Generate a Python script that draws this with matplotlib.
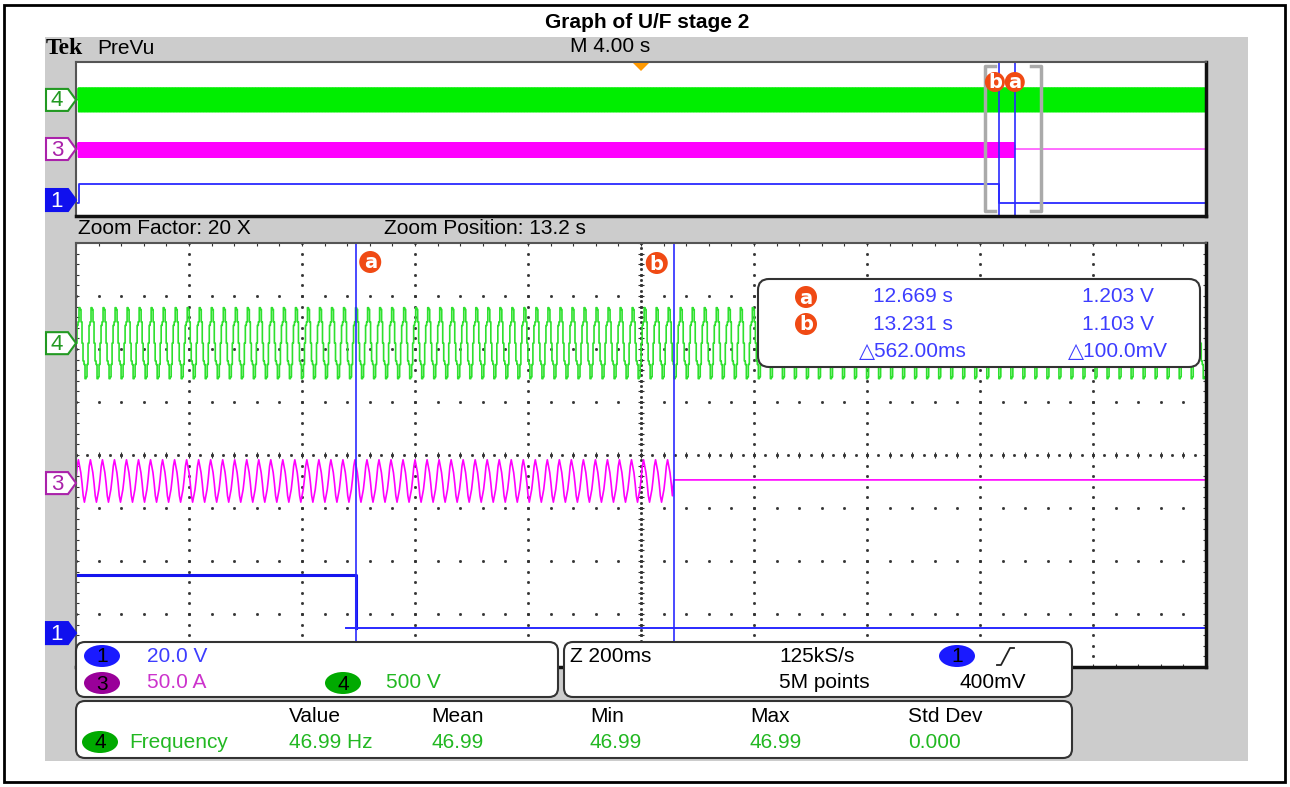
import numpy as np
import matplotlib
matplotlib.use("Agg")
import matplotlib.pyplot as plt
from matplotlib.patches import Rectangle, FancyBboxPatch, Ellipse, Polygon, Circle

plt.rcParams['font.family'] = ['Liberation Sans', 'DejaVu Sans']

# ---- values ----
title = "Graph of U/F stage 2"
freq_hz = 46.99
preview_div_s = 4.0          # M 4.00 s
zoom_div_s = 0.2             # Z 200ms
zoom_factor = 20
zoom_pos_label = 13.2
zoom_center = 13.173         # actual centre of the zoom window (s)
cursor_names = ["a", "b"]
cursor_t = [12.669, 13.231]
cursor_v = [1.203, 1.103]
cursor_delta = ["\u25b3562.00ms", "\u25b3100.0mV"]

# one period of each trace, normalised (-1..1)
ch4_cycle = [0.0, 0.5, 0.6, 1.0, 0.95, 0.6, 0.0, -0.5, -0.6, -1.0, -0.95, -0.6]
ch3_cycle = [0.1, 0.7, 1.0, 0.7, 0.4, -0.1, -0.7, -1.0, -0.7, -0.4]

# trace positions in divisions (zoom window)
ch4_off, ch4_amp = 2.11, 0.67
ch3_off, ch3_amp, ch3_after = -0.49, 0.40, -0.47
ch1_high, ch1_low = -2.26, -3.26
ch1_low_start = 12.65

# trace positions in divisions (preview)
pv_start = -19.93
pv_ch4_off, pv_ch4_amp = 2.03, 0.62
pv_ch3_off, pv_ch3_amp, pv_ch3_after = -0.57, 0.38, -0.52
pv_ch1_high, pv_ch1_low = -2.34, -3.32
pv_ch1_rise = -19.9

# channel ground markers (div): main / preview
marker_main = {"4": 2.11, "3": -0.53, "1": -3.36}
marker_prev = {"4": 2.03, "3": -0.52, "1": -3.17}

# readouts
ch_scales = ["20.0 V", "50.0 A", "500 V"]
horiz_info = ["Z 200ms", "125kS/s", "5M points", "400mV"]
meas_headers = ["Value", "Mean", "Min", "Max", "Std Dev"]
meas_values = ["46.99 Hz", "46.99", "46.99", "46.99", "0.000"]
meas_name = "Frequency"

C1, C3, C4 = '#2a2aff', '#ff00ff', '#2ee02e'
ORANGE = '#f04a14'
TXT1, TXT3, TXT4 = '#3d3dff', '#cc33cc', '#22b822'

W, H = 1290, 787
fig = plt.figure(figsize=(W / 100, H / 100), dpi=100)


def frac(l, t, r, b):
    return [l / W, 1 - b / H, (r - l) / W, (b - t) / H]


def tiled(cycle, t0, t1, amp, off):
    n_per = len(cycle)
    dt = 1.0 / (freq_hz * n_per)
    n = int((t1 - t0) / dt)
    t = t0 + np.arange(n) * dt
    return t, off + amp * np.resize(cycle, n)


ax_bg = fig.add_axes([0, 0, 1, 1], zorder=0)
ax_bg.set_xlim(0, W)
ax_bg.set_ylim(H, 0)
ax_bg.axis('off')
ax_bg.add_patch(Rectangle((45, 37), 1203, 724, fc='#cccccc', ec='none'))
ax_bg.add_patch(Rectangle((4, 5), 1281, 777, fc='none', ec='black', lw=2))
ax_bg.text(647, 22, title, ha='center', va='center', fontsize=15, fontweight='bold')

ax_pv = fig.add_axes(frac(76, 62, 1206, 216), zorder=1)
ax_mn = fig.add_axes(frac(76, 243, 1206, 667), zorder=1)
for ax in (ax_pv, ax_mn):
    ax.set_xticks([])
    ax.set_yticks([])
    ax.set_ylim(-4, 4)
    for s in ('left', 'top'):
        ax.spines[s].set_color('#555555')
        ax.spines[s].set_linewidth(1.5)
    for s in ('right', 'bottom'):
        ax.spines[s].set_color('#111111')
        ax.spines[s].set_linewidth(2.5)

# ---- preview ----
ax_pv.set_xlim(-5 * preview_div_s, 5 * preview_div_s)
t, y = tiled(ch4_cycle, pv_start, 20, pv_ch4_amp, pv_ch4_off)
ax_pv.plot(t, y, color='#00ee00', lw=0.8, drawstyle='steps-post')
t, y = tiled(ch3_cycle, pv_start, cursor_t[1], pv_ch3_amp, pv_ch3_off)
ax_pv.plot(np.r_[t, cursor_t[1], 20], np.r_[y, pv_ch3_after, pv_ch3_after], color=C3, lw=0.8)
ax_pv.plot([-20, pv_ch1_rise, pv_ch1_rise, cursor_t[0], cursor_t[0], 20],
           [pv_ch1_low, pv_ch1_low, pv_ch1_high, pv_ch1_high, pv_ch1_low, pv_ch1_low],
           color=C1, lw=1.3)
for ct in cursor_t:
    ax_pv.axvline(ct, color=C1, lw=1.2)
# zoom window brackets
zl, zr = zoom_center - 5 * zoom_div_s, zoom_center + 5 * zoom_div_s
top, bot, ser = 3.8, -3.75, 0.35
ax_pv.plot([zl + ser, zl, zl, zl + ser], [top, top, bot, bot], color='#aaaaaa', lw=2.5)
ax_pv.plot([zr - ser, zr, zr, zr - ser], [top, top, bot, bot], color='#aaaaaa', lw=2.5)

# ---- zoom window ----
x0 = zoom_center - 5 * zoom_div_s
x1 = zoom_center + 5 * zoom_div_s
ax_mn.set_xlim(x0, x1)

# graticule
dot = dict(ls='none', marker='s', ms=1.0, color='#333333')
yfine = np.arange(-4, 4.001, 0.2)
xfine = x0 + zoom_div_s * np.arange(0, 10.001, 0.2)
for i in range(1, 10):
    ax_mn.plot(np.full_like(yfine, x0 + i * zoom_div_s), yfine, **dot)
for j in range(-3, 4):
    ax_mn.plot(xfine, np.full_like(xfine, j), **dot)
ydense = np.arange(-4, 4.001, 0.1)
xdense = x0 + zoom_div_s * np.arange(0, 10.001, 0.1)
ax_mn.plot(np.full_like(ydense, zoom_center), ydense, **dot)
ax_mn.plot(xdense, np.zeros_like(xdense), **dot)
ax_mn.plot(np.full_like(yfine, zoom_center), yfine, ls='none', marker='_', ms=4, mew=0.8, color='#333333')
ax_mn.plot(xfine, np.zeros_like(xfine), ls='none', marker='|', ms=4, mew=0.8, color='#333333')
for yy in (-4, 4):
    ax_mn.plot(xfine, np.full_like(xfine, yy), ls='none', marker='|', ms=5, mew=0.8, color='#333333')
for xx in (x0, x1):
    ax_mn.plot(np.full_like(yfine, xx), yfine, ls='none', marker='_', ms=5, mew=0.8, color='#333333')

t, y = tiled(ch4_cycle, x0, x1, ch4_amp, ch4_off)
ax_mn.plot(t, y, color=C4, lw=1.2, drawstyle='steps-post')
t, y = tiled(ch3_cycle, x0, cursor_t[1], ch3_amp, ch3_off)
ax_mn.plot(np.r_[t, cursor_t[1], x1], np.r_[y, ch3_after, ch3_after], color=C3, lw=1.2)
ax_mn.plot([x0, cursor_t[0], cursor_t[0]], [ch1_high, ch1_high, ch1_low], color='#1515ee', lw=2.2)
ax_mn.plot([ch1_low_start, x1], [ch1_low, ch1_low], color=C1, lw=1.4)
for ct in cursor_t:
    ax_mn.axvline(ct, color=C1, lw=1.2)

# ---- foreground (labels, readouts) ----
ax_fg = fig.add_axes([0, 0, 1, 1], zorder=2)
ax_fg.set_xlim(0, W)
ax_fg.set_ylim(H, 0)
ax_fg.axis('off')


def mn_px(t):
    return 76 + (t - x0) / (x1 - x0) * 1130


def mn_py(v):
    return 455 - v * 53


def pv_px(t):
    return 641 + t / (10 * preview_div_s) * 1130


def pv_py(v):
    return 139 - v * 19.25


def badge(x, y, letter, r=11):
    ax_fg.add_patch(Circle((x, y), r, fc=ORANGE, ec='none'))
    ax_fg.text(x, y + 1, letter, ha='center', va='center', color='white',
               fontsize=14, fontweight='bold', family='DejaVu Sans')


def chan_marker(y, num, color, filled):
    pts = [(46, y - 11), (68, y - 11), (76, y), (68, y + 11), (46, y + 11)]
    ax_fg.add_patch(Polygon(pts, closed=True, fc=color if filled else 'white',
                            ec=color, lw=1.5))
    ax_fg.text(57, y + 1, num, ha='center', va='center', fontsize=16,
               color='white' if filled else color)


cols = {"4": ('#229922', False), "3": ('#aa22aa', False), "1": ('#1010ee', True)}
for num, v in marker_main.items():
    chan_marker(mn_py(v), num, *cols[num])
for num, v in marker_prev.items():
    chan_marker(pv_py(v), num, *cols[num])

# trigger position marker
tx = pv_px(0)
ax_fg.add_patch(Polygon([(tx - 8, 63), (tx + 8, 63), (tx, 71)], fc='#ff9900', ec='none'))

# cursor badges
badge(mn_px(cursor_t[0]) + 14, 262, cursor_names[0])
badge(mn_px(cursor_t[1]) - 17, 263, cursor_names[1])
badge(pv_px(cursor_t[1]), 82, cursor_names[0], r=10)
badge(pv_px(cursor_t[0]) - 4, 82, cursor_names[1], r=10)

fs = 15
ax_fg.text(46, 48, "Tek", ha='left', va='center', fontsize=17, fontweight='bold',
           family='Liberation Serif')
ax_fg.text(97, 48, "PreVu", ha='left', va='center', fontsize=fs)
ax_fg.text(570, 47, f"M {preview_div_s:.2f} s", ha='left', va='center', fontsize=fs)
ax_fg.text(78, 229, f"Zoom Factor: {zoom_factor} X", ha='left', va='center', fontsize=fs)
ax_fg.text(384, 229, f"Zoom Position: {zoom_pos_label} s", ha='left', va='center', fontsize=fs)


def box(xa, ya, xb, yb, r=9):
    ax_fg.add_patch(FancyBboxPatch((xa, ya), xb - xa, yb - ya,
                                   boxstyle=f'round,pad=0,rounding_size={r}',
                                   fc='white', ec='#333333', lw=1.5))


def pill(x, y, num, color):
    ax_fg.add_patch(Ellipse((x, y), 36, 22, fc=color, ec='none'))
    ax_fg.text(x, y + 1, num, ha='center', va='center', fontsize=fs, color='black')


# cursor readout
box(758, 279, 1200, 367, r=11)
for i, yy in enumerate([297, 324]):
    badge(806, yy, cursor_names[i])
    ax_fg.text(913, yy, f"{cursor_t[i]:.3f} s", ha='center', va='center', fontsize=fs, color=TXT1)
    ax_fg.text(1118, yy, f"{cursor_v[i]:.3f} V", ha='center', va='center', fontsize=fs, color=TXT1)
ax_fg.text(913, 352, cursor_delta[0], ha='center', va='center', fontsize=fs, color=TXT1)
ax_fg.text(1118, 352, cursor_delta[1], ha='center', va='center', fontsize=fs, color=TXT1)

# channel scale box
box(76, 642, 558, 697)
pill(102, 656, "1", '#1a1aff')
ax_fg.text(147, 656, ch_scales[0], ha='left', va='center', fontsize=fs, color=TXT1)
pill(102, 683, "3", '#990099')
ax_fg.text(147, 683, ch_scales[1], ha='left', va='center', fontsize=fs, color=TXT3)
pill(343, 683, "4", '#00aa00')
ax_fg.text(386, 683, ch_scales[2], ha='left', va='center', fontsize=fs, color=TXT4)

# horizontal / trigger box
box(564, 642, 1072, 697)
ax_fg.text(570, 657, horiz_info[0], ha='left', va='center', fontsize=fs)
ax_fg.text(779, 657, horiz_info[1], ha='left', va='center', fontsize=fs)
ax_fg.text(779, 683, horiz_info[2], ha='left', va='center', fontsize=fs)
pill(957, 656, "1", '#1a1aff')
ax_fg.plot([997, 1001, 1010, 1014], [665, 665, 648, 648], color='#222222', lw=1.3)
ax_fg.text(960, 683, horiz_info[3], ha='left', va='center', fontsize=fs)

# measurement box
box(76, 701, 1072, 758)
for hx, hdr, val in zip([289, 431, 590, 750, 908], meas_headers, meas_values):
    ax_fg.text(hx, 716, hdr, ha='left', va='center', fontsize=fs)
    ax_fg.text(hx, 742, val, ha='left', va='center', fontsize=fs, color=TXT4)
pill(100, 742, "4", '#00aa00')
ax_fg.text(129, 742, meas_name, ha='left', va='center', fontsize=fs, color=TXT4)

fig.savefig("out.png", dpi=100)
